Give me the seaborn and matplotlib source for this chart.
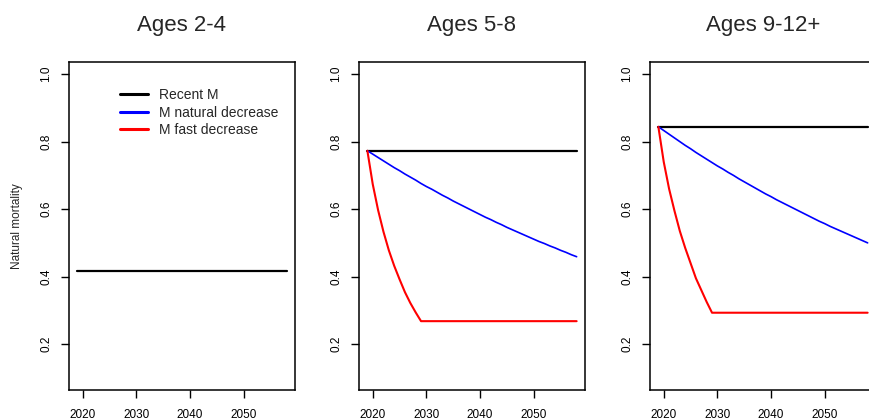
import numpy as np
import pandas as pd
import matplotlib
matplotlib.use("Agg")
import matplotlib.pyplot as plt
from matplotlib.lines import Line2D
import seaborn as sns

# ---- data -------------------------------------------------------------
age_groups = ["Ages 2-4", "Ages 5-8", "Ages 9-12+"]
scenarios = ["Recent M", "M natural decrease", "M fast decrease"]
scenario_colors = ["#000000", "#0000FF", "#FF0000"]

first_year, last_year = 2019, 2058
years = list(range(first_year, last_year + 1))

# constant (recent) natural mortality per age group
recent_m = [0.417, 0.773, 0.844]

# gradual decrease, one value per year 2019-2058
natural_5_8 = [0.773, 0.763, 0.753, 0.743, 0.733, 0.723, 0.714, 0.704, 0.695, 0.686,
               0.676, 0.667, 0.659, 0.650, 0.641, 0.633, 0.624, 0.616, 0.608, 0.600,
               0.592, 0.584, 0.576, 0.569, 0.561, 0.554, 0.546, 0.539, 0.532, 0.525,
               0.518, 0.511, 0.504, 0.498, 0.491, 0.485, 0.478, 0.472, 0.465, 0.459]
natural_9_12 = [0.844, 0.833, 0.822, 0.811, 0.800, 0.789, 0.779, 0.768, 0.758, 0.748,
                0.738, 0.728, 0.719, 0.709, 0.700, 0.690, 0.681, 0.672, 0.663, 0.654,
                0.645, 0.637, 0.628, 0.620, 0.612, 0.604, 0.596, 0.588, 0.580, 0.572,
                0.564, 0.557, 0.549, 0.542, 0.535, 0.528, 0.521, 0.514, 0.507, 0.500]

# fast decrease until 2029, then held at the floor value
fast_years = [2019, 2020, 2021, 2022, 2023, 2024, 2025, 2026, 2027, 2028, 2029, 2058]
fast_5_8 = [0.773, 0.674, 0.597, 0.533, 0.478, 0.432, 0.392, 0.354, 0.322, 0.294, 0.268, 0.268]
fast_9_12 = [0.844, 0.740, 0.660, 0.595, 0.535, 0.485, 0.440, 0.395, 0.360, 0.325, 0.293, 0.293]

x_ticks = [2020, 2030, 2040, 2050]
y_ticks = [0.2, 0.4, 0.6, 0.8, 1.0]

# ---- long-form table ----------------------------------------------------
rows = []
for grp, m in zip(age_groups, recent_m):
    for yr in (first_year, last_year):
        rows.append((grp, scenarios[0], yr, m))
for grp, vals in (("Ages 5-8", natural_5_8), ("Ages 9-12+", natural_9_12)):
    for yr, v in zip(years, vals):
        rows.append((grp, scenarios[1], yr, v))
for grp, vals in (("Ages 5-8", fast_5_8), ("Ages 9-12+", fast_9_12)):
    for yr, v in zip(fast_years, vals):
        rows.append((grp, scenarios[2], yr, v))
df = pd.DataFrame(rows, columns=["group", "scenario", "year", "M"])

# ---- style ---------------------------------------------------------------
sns.set_style("ticks")
plt.rcParams["font.family"] = ["Liberation Sans", "DejaVu Sans"]
plt.rcParams["axes.linewidth"] = 1.1
plt.rcParams["axes.edgecolor"] = "black"

fig = plt.figure(figsize=(8.7, 4.2), dpi=100)
fig.patch.set_facecolor("white")

W, H = 870.0, 420.0
ax_lefts = [69, 359, 650]
ax_w, ax_top, ax_bot = 226, 62, 390

line_widths = {"Recent M": 1.6, "M natural decrease": 1.2, "M fast decrease": 1.5}
palette = dict(zip(scenarios, scenario_colors))

x_pad = (last_year - first_year) * 0.04
y_lo, y_hi = 0.1, 1.0
y_pad = (y_hi - y_lo) * 0.04

for i, (grp, left) in enumerate(zip(age_groups, ax_lefts)):
    ax = fig.add_axes([left / W, (H - ax_bot) / H, ax_w / W, (ax_bot - ax_top) / H])
    sub = df[df["group"] == grp]
    for sc in scenarios:
        part = sub[sub["scenario"] == sc]
        if part.empty:
            continue
        sns.lineplot(data=part, x="year", y="M", color=palette[sc],
                     linewidth=line_widths[sc], ax=ax, legend=False,
                     estimator=None, sort=True)

    ax.set_xlim(first_year - x_pad, last_year + x_pad)
    ax.set_ylim(y_lo - y_pad, y_hi + y_pad)
    ax.set_xticks(x_ticks)
    ax.set_xticklabels([str(t) for t in x_ticks])
    ax.set_yticks(y_ticks)
    ax.set_yticklabels([f"{t:.1f}" for t in y_ticks])
    ax.tick_params(axis="both", direction="out", length=5.5, width=1.0,
                   labelsize=8.5, colors="black")
    ax.tick_params(axis="x", pad=8)
    ax.tick_params(axis="y", pad=6.5, labelrotation=90)
    for lab in ax.get_yticklabels():
        lab.set_va("center")
    for sp in ax.spines.values():
        sp.set_visible(True)
        sp.set_linewidth(1.1)
    ax.set_xlabel("")
    ax.set_ylabel("")
    ax.set_title(grp, fontsize=16, pad=22)

    if i == 0:
        ax.set_ylabel("Natural mortality", fontsize=8.5)
        ax.yaxis.set_label_coords(-0.203, 0.5)
        handles = [Line2D([0], [0], color=c, linewidth=2.2) for c in scenario_colors]
        ax.legend(handles, scenarios, loc="upper left",
                  bbox_to_anchor=(0.227, 0.92), frameon=False, fontsize=10,
                  handlelength=2.0, handletextpad=0.8, labelspacing=0.25,
                  borderpad=0, borderaxespad=0)

fig.savefig("out.png", dpi=100, facecolor="white")
